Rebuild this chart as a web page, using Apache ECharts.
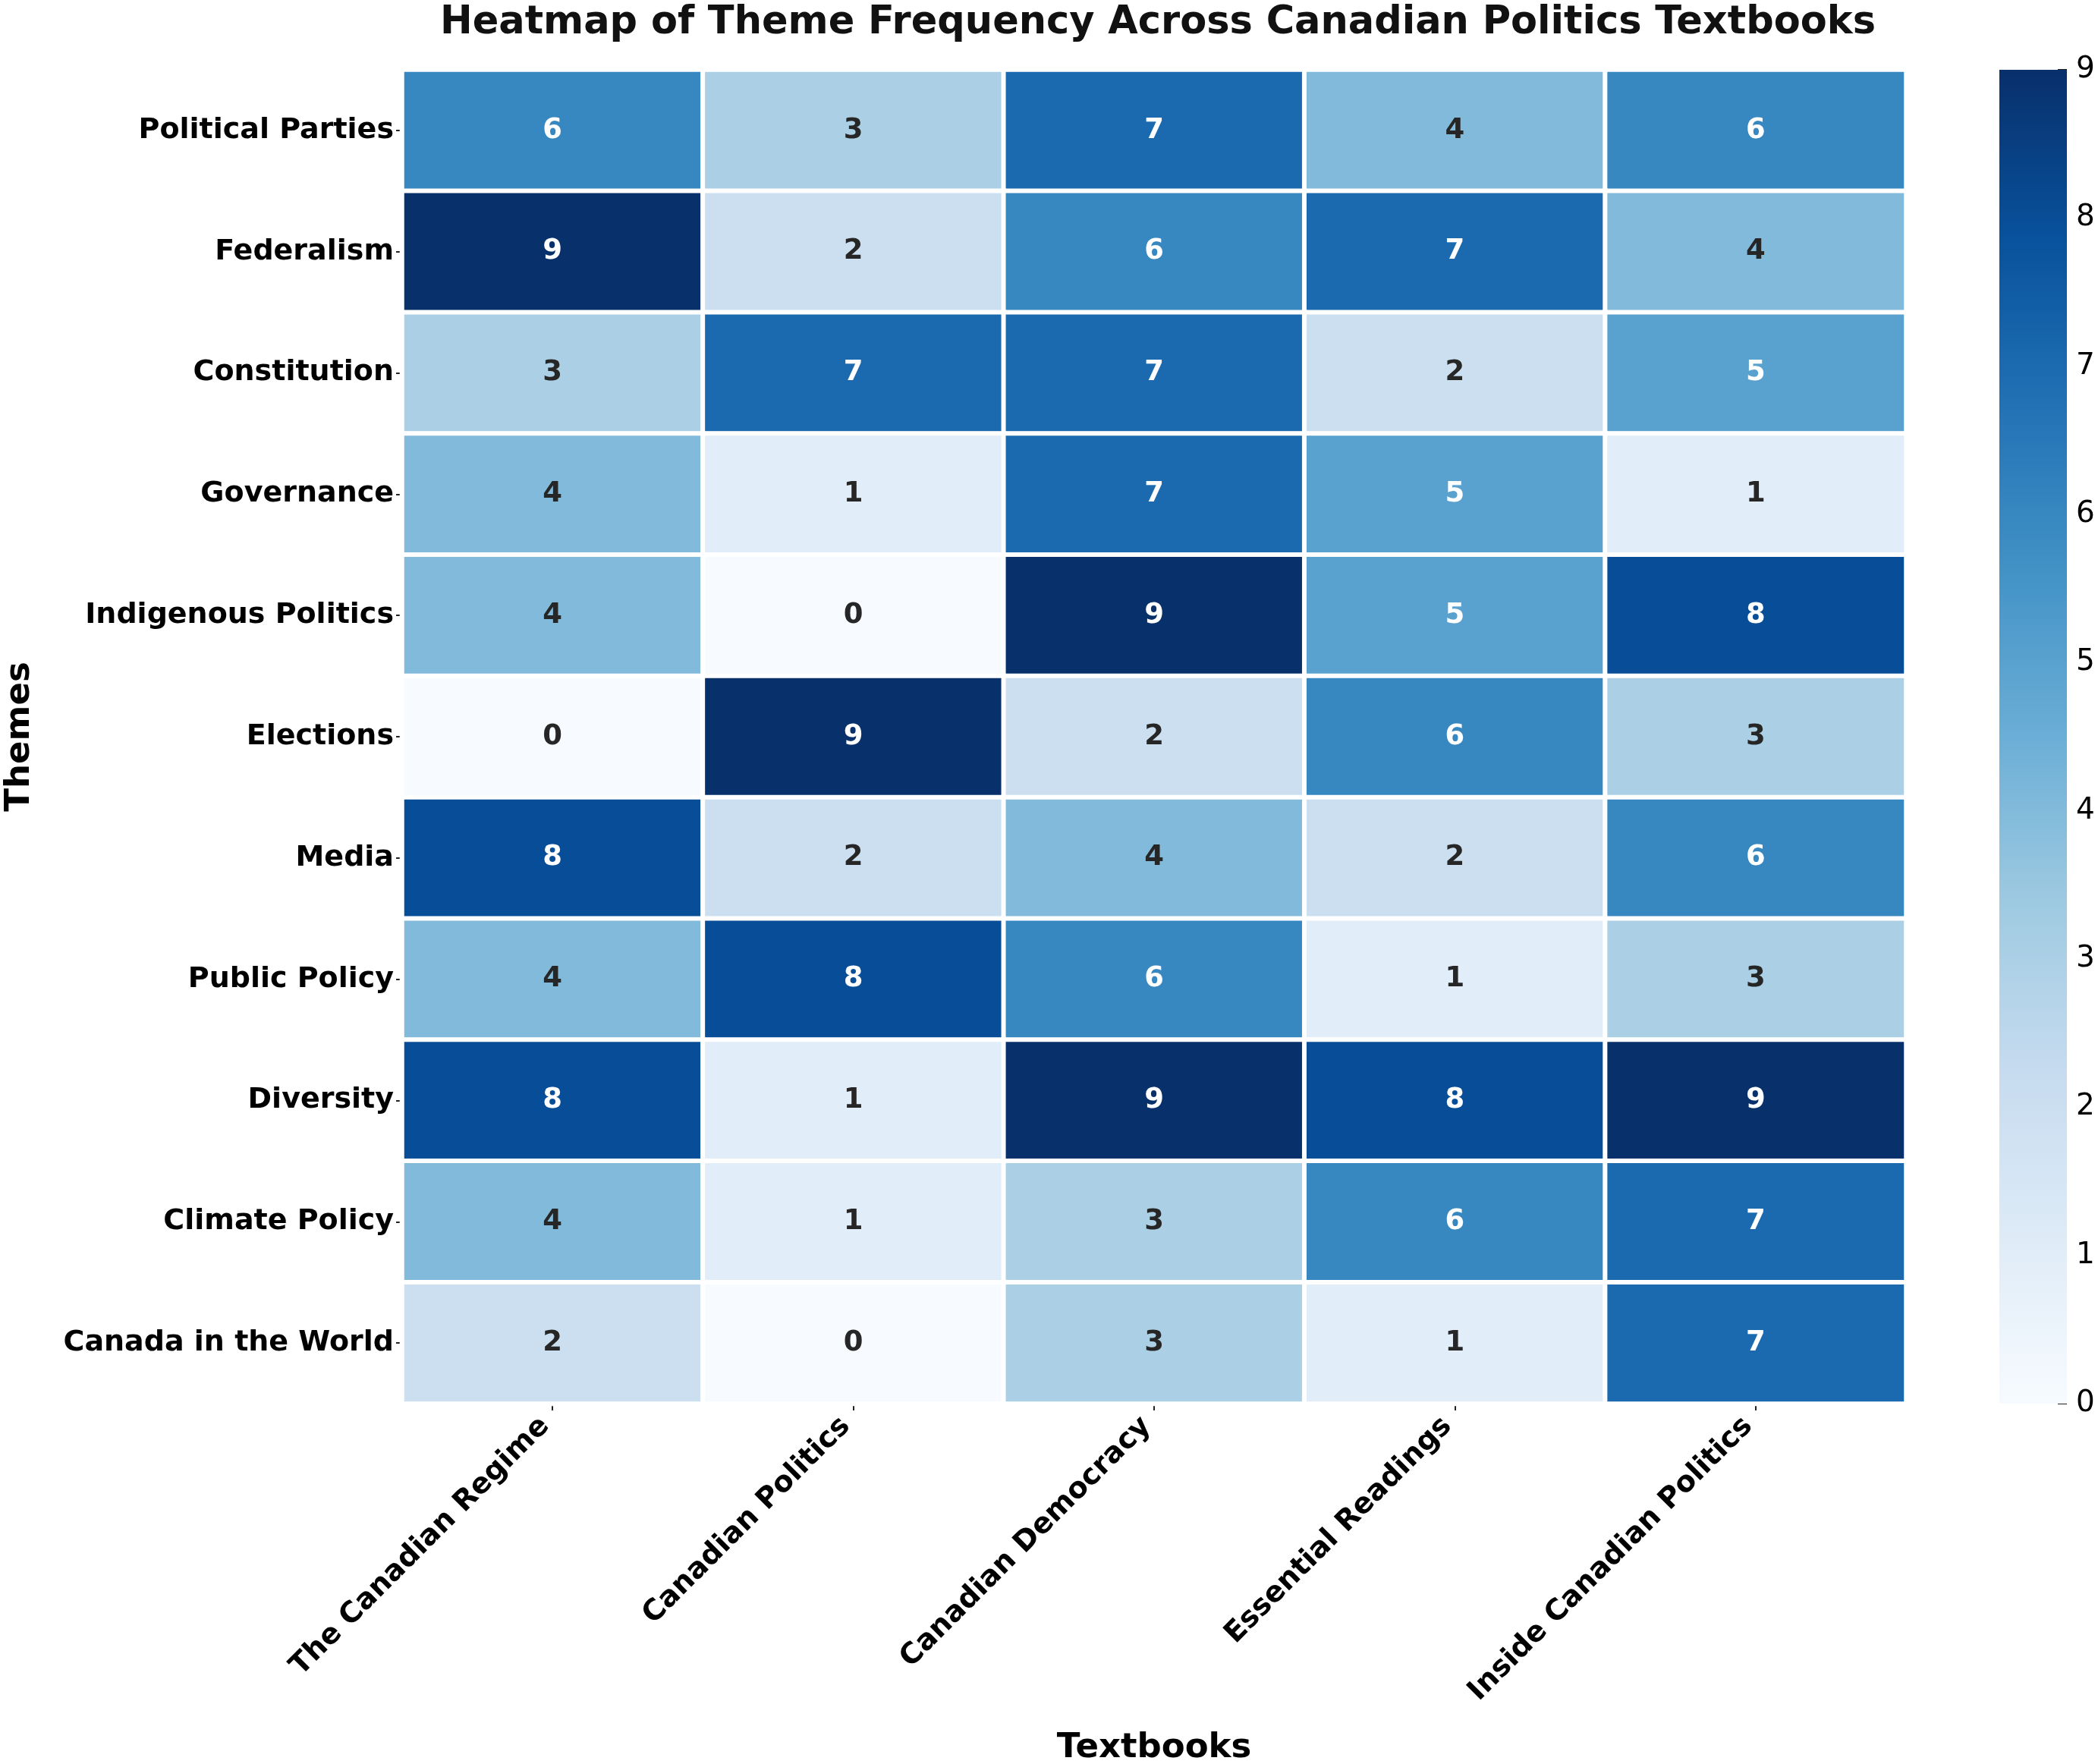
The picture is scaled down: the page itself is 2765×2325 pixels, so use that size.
<!DOCTYPE html>
<html>
  <head>
    <meta charset="UTF-8">
    <title>Theme frequency heatmap</title>
    <script src="https://cdn.jsdelivr.net/npm/echarts@6/dist/echarts.min.js"></script>
    <style>
      html, body { margin: 0; padding: 0; background: #fff; }
    </style>
  </head>
  <body>
    <div id="myChart" style="width: 2765px;height:2325px;"></div>
    <script type="text/javascript">
      // textbooks (columns) and themes (rows)
      var textbooks = ['The Canadian Regime', 'Canadian Politics', 'Canadian Democracy', 'Essential Readings', 'Inside Canadian Politics'];
      var themes = ['Political Parties', 'Federalism', 'Constitution', 'Governance', 'Indigenous Politics',
                    'Elections', 'Media', 'Public Policy', 'Diversity', 'Climate Policy', 'Canada in the World'];

      // one row per theme, values in textbook order
      var politicalParties = [6, 3, 7, 4, 6];
      var federalism       = [9, 2, 6, 7, 4];
      var constitution     = [3, 7, 7, 2, 5];
      var governance       = [4, 1, 7, 5, 1];
      var indigenous       = [4, 0, 9, 5, 8];
      var elections        = [0, 9, 2, 6, 3];
      var media            = [8, 2, 4, 2, 6];
      var publicPolicy     = [4, 8, 6, 1, 3];
      var diversity        = [8, 1, 9, 8, 9];
      var climatePolicy    = [4, 1, 3, 6, 7];
      var canadaWorld      = [2, 0, 3, 1, 7];

      var colorbarTicks = [0, 1, 2, 3, 4, 5, 6, 7, 8, 9];

      var rows = [politicalParties, federalism, constitution, governance, indigenous,
                  elections, media, publicPolicy, diversity, climatePolicy, canadaWorld];

      // matplotlib "Blues"
      var blues = ['#f7fbff', '#deebf7', '#c6dbef', '#9ecae1', '#6baed6', '#4292c6', '#2171b5', '#08519c', '#08306b'];
      var FONT = 'DejaVu Sans';

      var vmin = colorbarTicks[0];
      var vmax = colorbarTicks[colorbarTicks.length - 1];

      var cells = [];
      rows.forEach(function (row, yi) {
        row.forEach(function (v, xi) {
          cells.push({
            value: [xi, yi, v],
            label: { color: v >= 5 ? '#ffffff' : '#262626' }
          });
        });
      });

      var stops = blues.map(function (c, i) {
        return { offset: i / (blues.length - 1), color: c };
      });

      var myChart = echarts.init(document.getElementById('myChart'));

      var option = {
        backgroundColor: '#ffffff',
        animation: false,
        textStyle: { fontFamily: FONT },
        title: {
          text: 'Heatmap of Theme Frequency Across Canadian Politics Textbooks',
          left: 1521,
          top: 0,
          textAlign: 'center',
          textStyle: { fontFamily: FONT, fontSize: 51, fontWeight: 'bold', color: '#111' }
        },
        grid: [
          { left: 530, right: 253, top: 92, bottom: 475, containLabel: false, outerBoundsMode: 'none' },
          { left: 2635, right: 41, top: 92, bottom: 475, containLabel: false, outerBoundsMode: 'none' }
        ],
        xAxis: [
          {
            type: 'category',
            gridIndex: 0,
            data: textbooks,
            name: 'Textbooks',
            nameLocation: 'middle',
            nameGap: 432,
            nameTextStyle: { fontFamily: FONT, fontSize: 45, fontWeight: 'bold', color: '#000' },
            axisLine: { show: false },
            axisTick: { show: true, alignWithLabel: true, length: 9, lineStyle: { color: '#222', width: 2 } },
            axisLabel: { rotate: 45, margin: 14, padding: [0, 14, 0, 0], fontFamily: FONT, fontSize: 38, fontWeight: 'bold', color: '#000' },
            splitLine: { show: false }
          },
          {
            type: 'category',
            gridIndex: 1,
            data: [''],
            axisLine: { show: false },
            axisTick: { show: false },
            axisLabel: { show: false }
          }
        ],
        yAxis: [
          {
            type: 'category',
            gridIndex: 0,
            data: themes,
            inverse: true,
            name: 'Themes',
            nameLocation: 'middle',
            nameGap: 481,
            nameTextStyle: { fontFamily: FONT, fontSize: 45, fontWeight: 'bold', color: '#000' },
            axisLine: { show: false },
            axisTick: { show: true, alignWithLabel: true, length: 8, lineStyle: { color: '#222', width: 2 } },
            axisLabel: { margin: 11, fontFamily: FONT, fontSize: 38, fontWeight: 'bold', color: '#000' },
            splitLine: { show: false }
          },
          {
            type: 'value',
            gridIndex: 1,
            position: 'right',
            min: vmin,
            max: vmax,
            interval: 1,
            axisLine: { show: false },
            axisTick: { show: true, inside: true, length: 12, lineStyle: { color: '#222', width: 2 } },
            axisLabel: { margin: 12, fontFamily: FONT, fontSize: 39, color: '#000' },
            splitLine: { show: false }
          }
        ],
        visualMap: {
          show: false,
          type: 'continuous',
          min: vmin,
          max: vmax,
          seriesIndex: 0,
          dimension: 2,
          inRange: { color: blues }
        },
        series: [
          {
            type: 'heatmap',
            xAxisIndex: 0,
            yAxisIndex: 0,
            data: cells,
            itemStyle: { borderColor: '#ffffff', borderWidth: 6 },
            label: {
              show: true,
              fontFamily: FONT,
              fontSize: 37,
              fontWeight: 'bold',
              formatter: function (p) { return p.value[2]; }
            },
            emphasis: { disabled: true }
          },
          {
            // colorbar
            type: 'bar',
            xAxisIndex: 1,
            yAxisIndex: 1,
            data: [vmax],
            barWidth: '100%',
            silent: true,
            itemStyle: { color: new echarts.graphic.LinearGradient(0, 1, 0, 0, stops) }
          }
        ]
      };

      myChart.setOption(option);
    </script>
  </body>
</html>
